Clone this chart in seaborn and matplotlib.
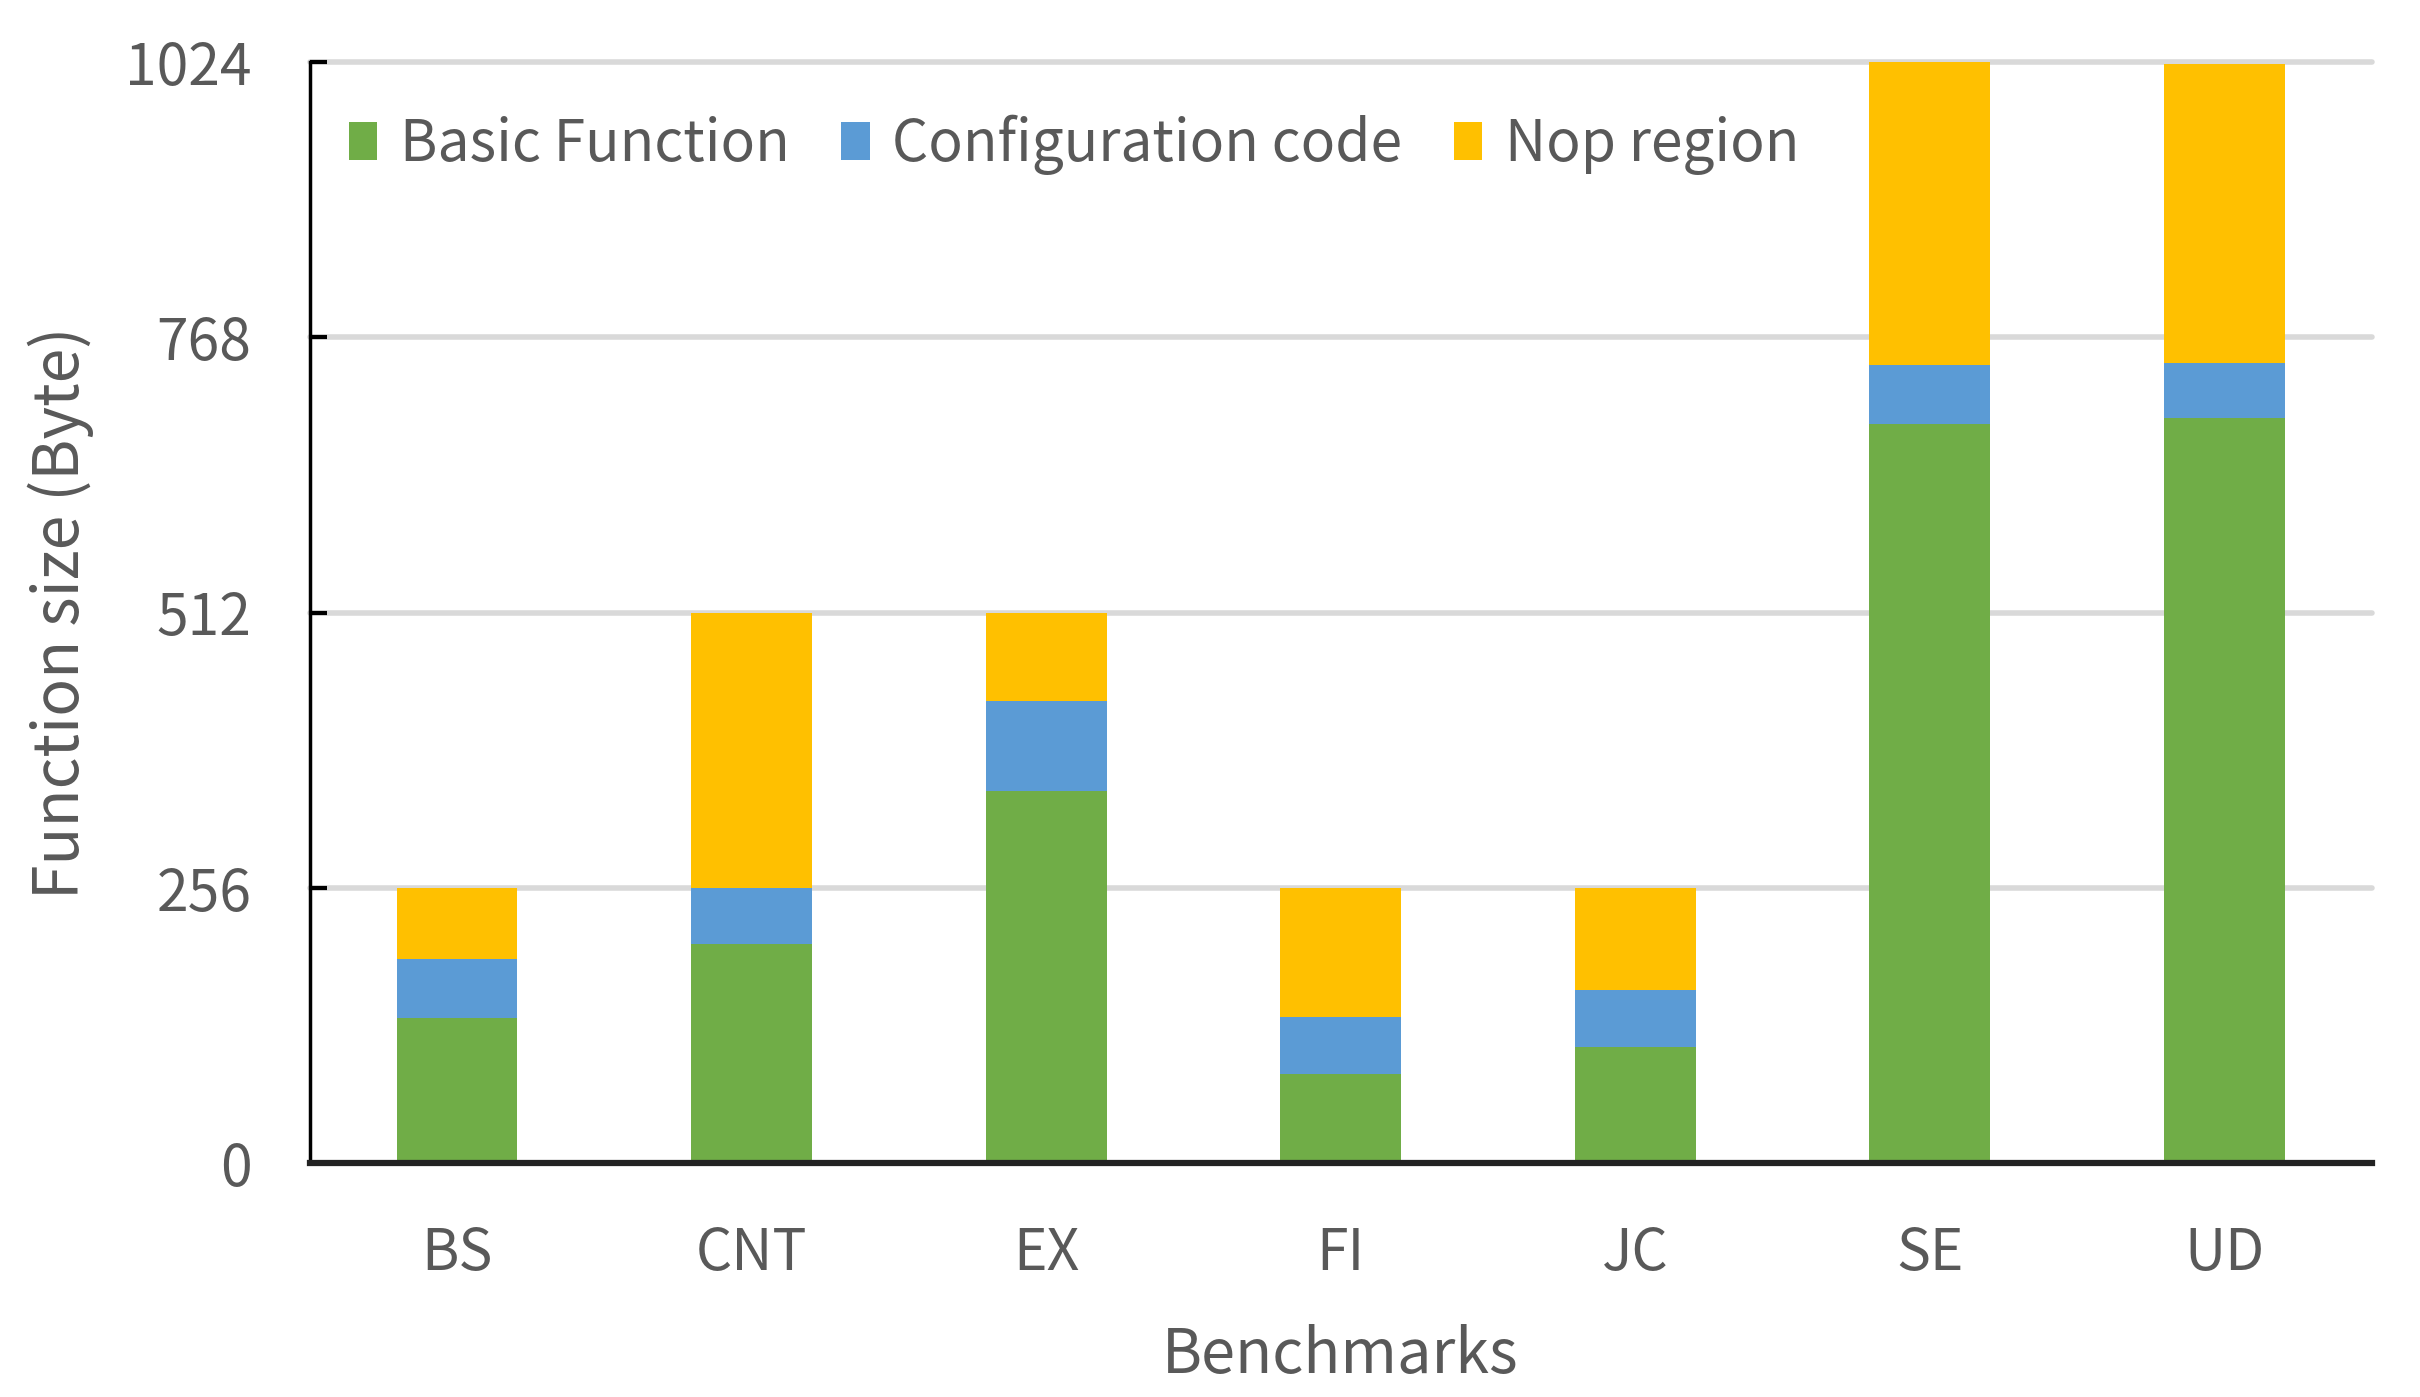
import matplotlib
matplotlib.use("Agg")
import matplotlib.pyplot as plt
import pandas as pd
import seaborn as sns
from matplotlib.patches import Patch

benchmarks = ["BS", "CNT", "EX", "FI", "JC", "SE", "UD"]
basic_function = [135, 204, 346, 83, 108, 687, 693]
config_code = [55, 52, 84, 53, 53, 55, 51]
nop_region = [66, 256, 82, 120, 95, 282, 278]
y_ticks = [0, 256, 512, 768, 1024]

colors = {"Basic Function": "#70ad47", "Configuration code": "#5b9bd5", "Nop region": "#ffc000"}
text_color = "#595959"

df = pd.DataFrame({
    "Benchmark": benchmarks,
    "Basic Function": basic_function,
    "Configuration code": config_code,
    "Nop region": nop_region,
})
# cumulative tops for the stacked layers
df["top_basic"] = df["Basic Function"]
df["top_config"] = df["top_basic"] + df["Configuration code"]
df["top_nop"] = df["top_config"] + df["Nop region"]

sns.set_theme(style="white")
plt.rcParams["font.family"] = ["Noto Sans CJK KR", "DejaVu Sans"]

fig = plt.figure(figsize=(24.2, 13.97), dpi=100)
ax = fig.add_axes([0.128, 0.1675, 0.852, 0.788])

for col, name in [("top_nop", "Nop region"), ("top_config", "Configuration code"), ("top_basic", "Basic Function")]:
    sns.barplot(data=df, x="Benchmark", y=col, color=colors[name], width=0.41,
                saturation=1, linewidth=0, edgecolor="none", ax=ax, zorder=3)

ax.set_ylim(0, 1024)
ax.set_xlim(-0.5, 6.5)
ax.set_yticks(y_ticks)
ax.set_yticklabels([str(t) for t in y_ticks])
ax.yaxis.grid(True, color="#d9d9d9", linewidth=4, zorder=0)
for gl in ax.get_ygridlines():
    gl.set_clip_on(False)
ax.xaxis.grid(False)

for side in ["top", "right"]:
    ax.spines[side].set_visible(False)
ax.spines["left"].set_color("black")
ax.spines["left"].set_linewidth(2.5)
ax.spines["bottom"].set_color("#222222")
ax.spines["bottom"].set_linewidth(4.5)
ax.spines["left"].set_zorder(5)
ax.spines["bottom"].set_zorder(5)

ax.tick_params(axis="y", direction="in", length=12, width=3, color="black",
               labelsize=41, labelcolor=text_color, pad=42, left=True)
ax.tick_params(axis="x", length=0, labelsize=41, labelcolor=text_color, pad=44)

ax.set_xlabel("Benchmarks", fontsize=44, color=text_color, labelpad=30)
ax.set_ylabel("Function size (Byte)", fontsize=45, color=text_color, labelpad=22)

handles = [Patch(facecolor=colors[n], edgecolor="none") for n in ["Basic Function", "Configuration code", "Nop region"]]
ax.legend(handles, ["Basic Function", "Configuration code", "Nop region"],
          loc="center left", bbox_to_anchor=(0.019, 0.925), ncol=3, frameon=False,
          borderpad=0, borderaxespad=0,
          fontsize=41, labelcolor=text_color, handlelength=0.5, handleheight=0.65,
          handletextpad=0.4, columnspacing=0.9)

fig.savefig("out.png", dpi=100, facecolor="white")
